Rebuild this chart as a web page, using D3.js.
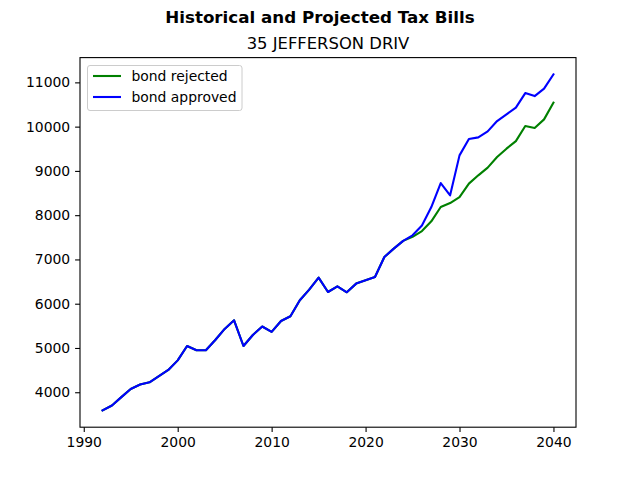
<!DOCTYPE html>
<html>
<head>
<meta charset="utf-8">
<script src="https://cdn.jsdelivr.net/npm/d3@7"></script>
<style>
  body { margin: 0; background: #fff; }
  svg { font-family: "DejaVu Sans", sans-serif; }
</style>
</head>
<body>
<div id="chart"></div>
<script>
(function () {
    // data
    var years = d3.range(1992, 2041);
    var history = [3590, 3700, 3890, 4075, 4175, 4225, 4365, 4505, 4720, 5045,
        4948, 4950, 5180, 5430, 5626, 5045, 5294, 5485, 5365, 5610,
        5716, 6077, 6318, 6590, 6265, 6393, 6258, 6454, 6529, 6604,
        7055, 7245, 7420];
    var rejectedProjection = [7510, 7642, 7861, 8184, 8274, 8410, 8712, 8900, 9073,
        9313, 9502, 9674, 10013, 9968, 10164, 10541];
    var approvedProjection = [7545, 7765, 8184, 8726, 8448, 9351, 9720, 9757, 9893,
        10126, 10277, 10428, 10758, 10690, 10857, 11180];
    var yTicks = [4000, 5000, 6000, 7000, 8000, 9000, 10000, 11000];
    var xTicks = [1990, 2000, 2010, 2020, 2030, 2040];

    var series = [
        { name: "bond rejected", color: "green", values: history.concat(rejectedProjection) },
        { name: "bond approved", color: "blue", values: history.concat(approvedProjection) }
    ];

    var width = 640, height = 480;
    var left = 80, right = 576, top = 57.6, bottom = 427.2;

    var svg = d3.select("#chart").append("svg")
        .attr("width", width)
        .attr("height", height);

    // matplotlib-like 5% padding
    var xPad = (2040 - 1992) * 0.05;
    var allVals = series[0].values.concat(series[1].values);
    var yMin = d3.min(allVals), yMax = d3.max(allVals);
    var yPad = (yMax - yMin) * 0.05;

    var x = d3.scaleLinear().domain([1992 - xPad, 2040 + xPad]).range([left, right]);
    var y = d3.scaleLinear().domain([yMin - yPad, yMax + yPad]).range([bottom, top]);

    var xAxis = d3.axisBottom(x).tickValues(xTicks).tickFormat(d3.format("d"))
        .tickSize(4.9).tickPadding(4.9).tickSizeOuter(0);
    var yAxis = d3.axisLeft(y).tickValues(yTicks).tickFormat(d3.format("d"))
        .tickSize(4.9).tickPadding(4.9).tickSizeOuter(0);

    var gx = svg.append("g").attr("transform", "translate(0," + bottom + ")").call(xAxis);
    var gy = svg.append("g").attr("transform", "translate(" + left + ",0)").call(yAxis);
    [gx, gy].forEach(function (g) {
        g.select(".domain").remove();
        g.selectAll("text").attr("font-size", 13.9).attr("fill", "#000")
            .attr("font-family", "DejaVu Sans");
        g.selectAll("line").attr("stroke", "#000").attr("stroke-width", 1.1);
    });

    var line = d3.line()
        .x(function (d, i) { return x(years[i]); })
        .y(function (d) { return y(d); });

    svg.selectAll(".series")
        .data(series)
        .enter().append("path")
        .attr("class", "series")
        .attr("d", function (d) { return line(d.values); })
        .attr("fill", "none")
        .attr("stroke", function (d) { return d.color; })
        .attr("stroke-width", 2.1)
        .attr("stroke-linejoin", "round")
        .attr("stroke-linecap", "square");

    // frame
    svg.append("rect")
        .attr("x", left).attr("y", top)
        .attr("width", right - left).attr("height", bottom - top)
        .attr("fill", "none").attr("stroke", "#000").attr("stroke-width", 1.1);

    // titles
    svg.append("text")
        .attr("x", width / 2).attr("y", 23.3)
        .attr("text-anchor", "middle")
        .attr("font-size", 16.7).attr("font-weight", "bold")
        .text("Historical and Projected Tax Bills");
    svg.append("text")
        .attr("x", (left + right) / 2).attr("y", 48.8)
        .attr("text-anchor", "middle")
        .attr("font-size", 16.4)
        .text("35 JEFFERSON DRIV");

    // legend
    var legend = svg.append("g").attr("transform", "translate(87.5,65.5)");
    legend.append("rect")
        .attr("width", 154.5).attr("height", 45).attr("rx", 2.5)
        .attr("fill", "#fff").attr("fill-opacity", 0.8)
        .attr("stroke", "#ccc").attr("stroke-width", 1);
    var item = legend.selectAll(".item")
        .data(series)
        .enter().append("g")
        .attr("transform", function (d, i) { return "translate(0," + (10.5 + i * 21) + ")"; });
    item.append("line")
        .attr("x1", 5.5).attr("x2", 33.5)
        .attr("stroke", function (d) { return d.color; })
        .attr("stroke-width", 2.1);
    item.append("text")
        .attr("x", 44).attr("y", 5)
        .attr("font-size", 13.9)
        .text(function (d) { return d.name; });
})();
</script>
</body>
</html>
